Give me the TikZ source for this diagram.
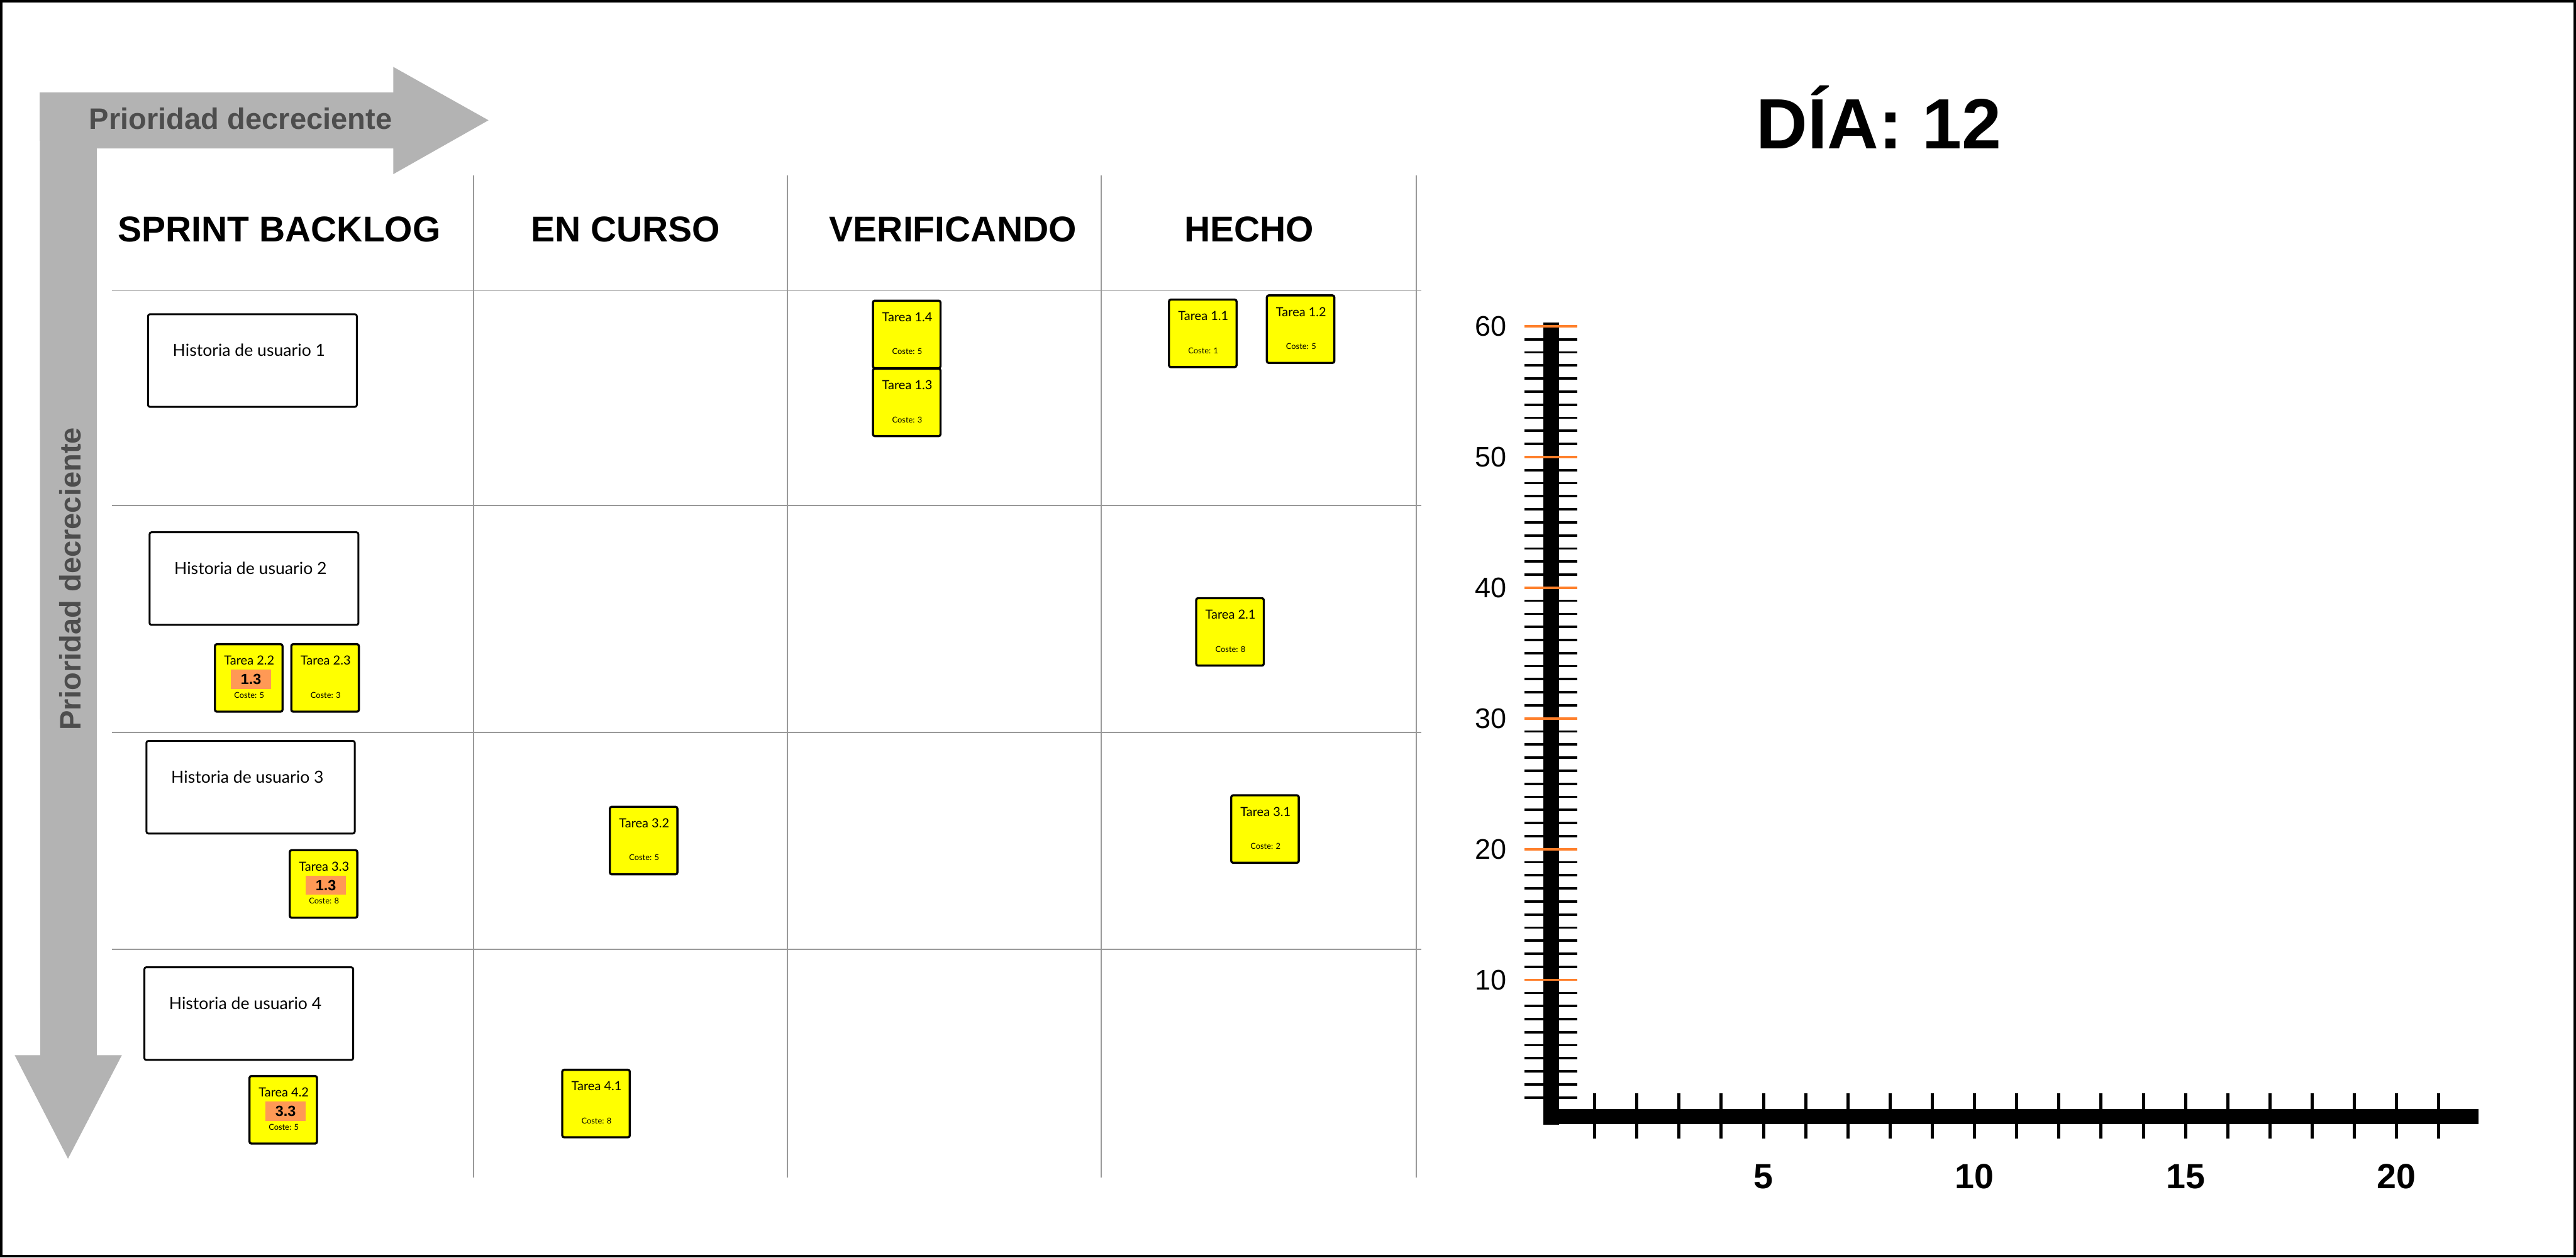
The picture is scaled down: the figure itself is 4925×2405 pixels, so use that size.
\documentclass[tikz,border=0pt]{standalone}
\usepackage{fontspec}
\setmainfont{Liberation Sans}
\newfontfamily\latof{Lato}
\usetikzlibrary{calc}
\definecolor{cardyellow}{HTML}{FFFF00}
\definecolor{badgeorange}{HTML}{FF9955}
\definecolor{arrowgray}{HTML}{B3B3B3}
\definecolor{arrowtext}{HTML}{4D4D4D}
\definecolor{gridgray}{HTML}{999999}
\definecolor{tickorange}{HTML}{FF7F2A}
\tikzset{
  card/.style={draw, line width=1.14pt, fill=cardyellow, rounded corners=1pt,
    minimum width=1.29cm, minimum height=1.29cm, inner sep=0pt, outer sep=0pt, anchor=north west},
  cardtitle/.style={anchor=base, inner sep=0pt, font=\latof\fontsize{6.83pt}{8pt}\selectfont},
  cardcost/.style={anchor=base, inner sep=0pt, font=\latof\fontsize{4.4pt}{5pt}\selectfont},
  badge/.style={fill=badgeorange, minimum width=0.77cm, minimum height=0.37cm, inner sep=0pt,
    font=\bfseries\fontsize{8pt}{9pt}\selectfont},
  story/.style={draw, line width=1pt, fill=white, rounded corners=1pt, inner sep=0pt, outer sep=0pt,
    anchor=north west, minimum width=3.99cm, minimum height=1.77cm},
  storytext/.style={anchor=base, inner sep=0pt, font=\latof\fontsize{9.1pt}{11pt}\selectfont},
  header/.style={anchor=base, inner sep=0pt, font=\bfseries\fontsize{19.5pt}{22pt}\selectfont},
  gridline/.style={draw=gridgray, line width=0.6pt},
  ytick/.style={line width=1.28pt},
  yorange/.style={draw=tickorange, line width=1.28pt},
  xtick/.style={line width=1.7pt},
  ylab/.style={inner sep=0pt, font=\fontsize{15.4pt}{17pt}\selectfont},
  xlab/.style={anchor=base, inner sep=0pt, font=\bfseries\fontsize{19pt}{21pt}\selectfont},
  prio/.style={inner sep=0pt, text=arrowtext, font=\bfseries\fontsize{16.1pt}{18pt}\selectfont}
}
\newcommand\taskcard[6]{%
  \node[card] (#1) at (#2,#3) {};
  \node[cardtitle] (#1-t) at ($(#1.north west)+(65.5,40)$) {#4};
  \node[cardcost] (#1-c) at ($(#1.north west)+(65.5,103)$) {#5};
  \if\relax\detokenize{#6}\relax\else
    \node[badge] (#1-b) at ($(#1.north west)+(69,67)$) {#6};
  \fi
}
\newcommand\storybox[5]{%
  \node[story, minimum width=#4cm] (#1) at (#2,#3) {};
  \node[storytext] (#1-t) at ($(#1.north west)+(193,80)$) {#5};
}
\begin{document}
\begin{tikzpicture}[x=0.01cm,y=-0.01cm]
\useasboundingbox (0,0) rectangle (4925,2405);
\fill[white] (0,0) rectangle (4925,2405);
\draw[line width=1.42pt] (2.5,2.5) rectangle (4922.5,2402.5);

% L-shaped priority arrow
\fill[arrowgray] (76,177) -- (752,177) -- (752,128) -- (934,230) -- (752,333) -- (752,284)
  -- (185,284) -- (185,2018) -- (233,2018) -- (130,2216) -- (28,2018) -- (77,2018) -- cycle;
\node[prio, anchor=base] (prioh) at (460,247) {Prioridad decreciente};
\node[prio, rotate=90] (priov) at (134,1107) {Prioridad decreciente};

% grid
\foreach \x in {905,1505,2105,2708} \draw[gridline] (\x,336) -- (\x,2252);
\foreach \y in {556,967,1401,1816} \draw[gridline] (214,\y) -- (2717,\y);

% headers
\node[header] (hsb) at (534,462) {SPRINT BACKLOG};
\node[header] (hec) at (1196,462) {EN CURSO};
\node[header] (hve) at (1822,462) {VERIFICANDO};
\node[header] (hhe) at (2388,462) {HECHO};

% user stories
\storybox{s1}{283}{601}{3.99}{Historia de usuario 1}
\storybox{s2}{286}{1018}{3.99}{Historia de usuario 2}
\storybox{s3}{280}{1417}{3.98}{Historia de usuario 3}
\storybox{s4}{276}{1850}{3.99}{Historia de usuario 4}

% task cards
\taskcard{t14}{1669}{575}{Tarea 1.4}{Coste: 5}{}
\taskcard{t13}{1669}{705}{Tarea 1.3}{Coste: 3}{}
\taskcard{t11}{2235}{573}{Tarea 1.1}{Coste: 1}{}
\taskcard{t12}{2422}{565}{Tarea 1.2}{Coste: 5}{}
\taskcard{t21}{2287}{1144}{Tarea 2.1}{Coste: 8}{}
\taskcard{t22}{411}{1232}{Tarea 2.2}{Coste: 5}{1.3}
\taskcard{t23}{557}{1232}{Tarea 2.3}{Coste: 3}{}
\taskcard{t31}{2354}{1521}{Tarea 3.1}{Coste: 2}{}
\taskcard{t32}{1166}{1543}{Tarea 3.2}{Coste: 5}{}
\taskcard{t33}{554}{1626}{Tarea 3.3}{Coste: 8}{1.3}
\taskcard{t41}{1075}{2046}{Tarea 4.1}{Coste: 8}{}
\taskcard{t42}{477}{2058}{Tarea 4.2}{Coste: 5}{3.3}

% day
\node[anchor=base, inner sep=0pt, font=\bfseries\fontsize{38.7pt}{42pt}\selectfont] (dia) at (3592,284) {DÍA: 12};

% chart
\foreach \v in {1,...,60} \draw[ytick] (2915,{2124-25*\v}) -- (3016,{2124-25*\v});
\foreach \n in {1,...,21} \draw[xtick] ({2968+80.7*\n},2091) -- ({2968+80.7*\n},2178);
\fill (2951,617) rectangle (2981,2151);
\fill (2951,2121) rectangle (4739,2150);
\foreach \v in {10,20,...,60} \draw[yorange] (2915,{2124-25*\v}) -- (3016,{2124-25*\v});
\foreach \v in {10,20,...,60} \node[ylab] (yl\v) at (2850,{2124-25*\v}) {\v};
\foreach \n in {5,10,15,20} \node[xlab] (xl\n) at ({2968+80.7*\n},2273) {\n};
\end{tikzpicture}
\end{document}
